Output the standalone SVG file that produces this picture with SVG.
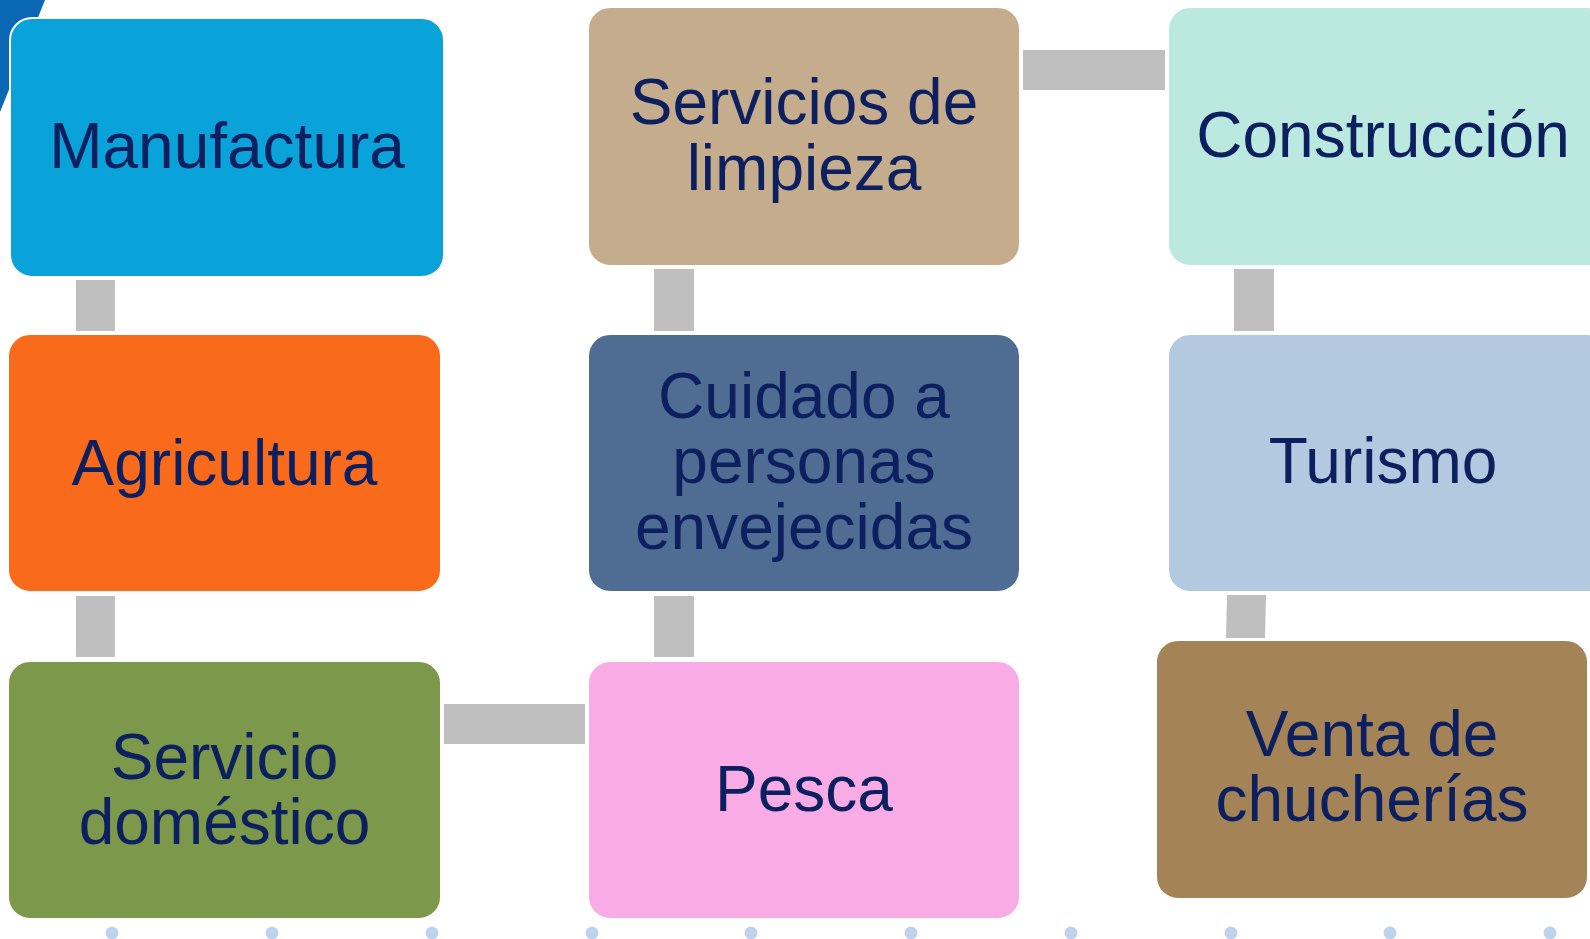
<svg xmlns="http://www.w3.org/2000/svg" width="1590" height="939" viewBox="0 0 1590 939">
<style>
.box{stroke:#ffffff;stroke-width:2}
.lbl{font-family:"Liberation Sans",Arial,sans-serif;font-size:64px;fill:#0c1f5e;text-anchor:middle}
.con{fill:#bfbfbf}
.dot{fill:#bdd1f0}
</style>
<rect width="1590" height="939" fill="#ffffff"/>
<polygon points="0,0 45,0 0,112" fill="#0a67b3"/>
<g id="connectors">
<rect class="con" x="76" y="280" width="39" height="51"/>
<rect class="con" x="76" y="596" width="39" height="61"/>
<rect class="con" x="654" y="269" width="40" height="62"/>
<rect class="con" x="654" y="596" width="40" height="61"/>
<rect class="con" x="1234" y="269" width="40" height="62"/>
<polygon class="con" points="1227,595 1266,595 1265,638 1226,638"/>
<rect class="con" x="444" y="704" width="141" height="40"/>
<rect class="con" x="1023" y="50" width="142" height="40"/>
</g>
<g id="n-manufactura">
<rect class="box" x="10" y="18" width="434" height="259" rx="22" fill="#09a3da"/>
<text class="lbl" x="227" y="168">Manufactura</text>
</g>
<g id="n-agricultura">
<rect class="box" x="8" y="334" width="433" height="258" rx="22" fill="#f96a1b"/>
<text class="lbl" x="224.5" y="485">Agricultura</text>
</g>
<g id="n-servicio-domestico">
<rect class="box" x="8" y="661" width="433" height="258" rx="22" fill="#7c984a"/>
<text class="lbl" x="224.5" y="779">Servicio</text>
<text class="lbl" x="224.5" y="844">doméstico</text>
</g>
<g id="n-servicios-limpieza">
<rect class="box" x="588" y="7" width="432" height="259" rx="22" fill="#c4ac8c"/>
<text class="lbl" x="804" y="124">Servicios de</text>
<text class="lbl" x="804" y="190">limpieza</text>
</g>
<g id="n-cuidado">
<rect class="box" x="588" y="334" width="432" height="258" rx="22" fill="#4f6c92"/>
<text class="lbl" x="804" y="418">Cuidado a</text>
<text class="lbl" x="804" y="483">personas</text>
<text class="lbl" x="804" y="549">envejecidas</text>
</g>
<g id="n-pesca">
<rect class="box" x="588" y="661" width="432" height="258" rx="22" fill="#f9abe5"/>
<text class="lbl" x="804" y="811">Pesca</text>
</g>
<g id="n-construccion">
<rect class="box" x="1168" y="7" width="440" height="259" rx="22" fill="#bbe9df"/>
<text class="lbl" x="1383" y="157">Construcción</text>
</g>
<g id="n-turismo">
<rect class="box" x="1168" y="334" width="440" height="258" rx="22" fill="#b3c9e0"/>
<text class="lbl" x="1383" y="483">Turismo</text>
</g>
<g id="n-venta">
<rect class="box" x="1156" y="640" width="432" height="259" rx="22" fill="#a48457"/>
<text class="lbl" x="1372" y="756">Venta de</text>
<text class="lbl" x="1372" y="821">chucherías</text>
</g>
<g id="dots">
<circle class="dot" cx="112" cy="933" r="6.5"/>
<circle class="dot" cx="272" cy="933" r="6.5"/>
<circle class="dot" cx="432" cy="933" r="6.5"/>
<circle class="dot" cx="592" cy="933" r="6.5"/>
<circle class="dot" cx="751" cy="933" r="6.5"/>
<circle class="dot" cx="911" cy="933" r="6.5"/>
<circle class="dot" cx="1071" cy="933" r="6.5"/>
<circle class="dot" cx="1231" cy="933" r="6.5"/>
<circle class="dot" cx="1390" cy="933" r="6.5"/>
<circle class="dot" cx="1550" cy="933" r="6.5"/>
</g>
</svg>
